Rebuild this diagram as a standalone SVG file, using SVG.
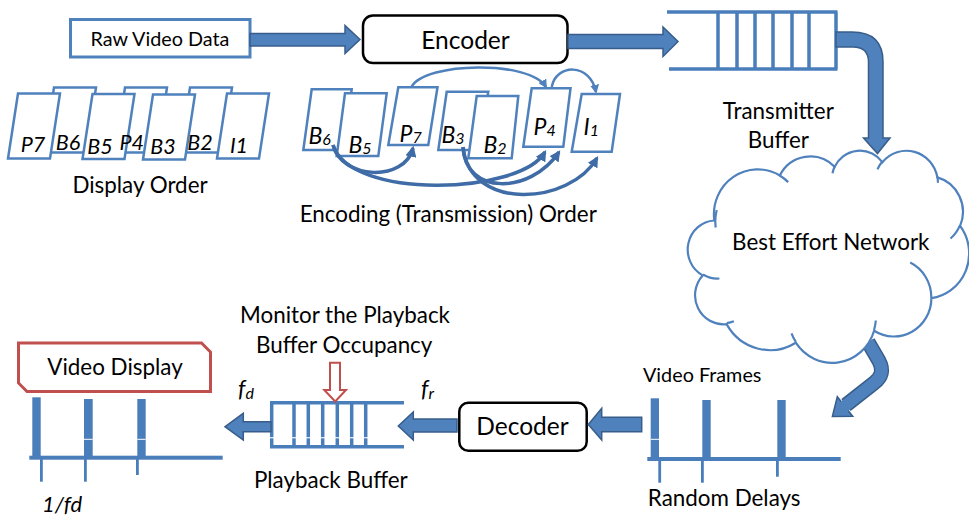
<svg xmlns="http://www.w3.org/2000/svg" width="969" height="520" viewBox="0 0 969 520">
<style>
.t{font-family:Lato,"Liberation Sans",sans-serif;fill:#000}
.m{font-size:22.4px;text-anchor:middle}
.it{font-style:italic}
.frame{fill:#fff;stroke:#4F81BD;stroke-width:2.5;stroke-linejoin:miter}
.big{fill:#4F81BD;stroke:#385D8A;stroke-width:1.5;stroke-linejoin:miter}
.bl{fill:#4A7EBB}
.bufl{stroke:#4A7EBB;stroke-width:3.5;fill:none}
.thin{fill:none;stroke:#4F81BD;stroke-width:2.5}
.thick{fill:none;stroke:#3F6CA6;stroke-width:3.5}
.cloud{fill:#fff;stroke:#4F81BD;stroke-width:2.2}
.gap{fill:#fff}
</style>
<defs>
<marker id="ahT" viewBox="0 0 10 10" refX="8" refY="5" markerWidth="9" markerHeight="9" markerUnits="userSpaceOnUse" orient="auto"><path d="M0,0 L10,5 L0,10 z" fill="#4F81BD"/></marker>
<marker id="ahB" viewBox="0 0 10 10" refX="8" refY="5" markerWidth="11" markerHeight="11" markerUnits="userSpaceOnUse" orient="auto"><path d="M0,0 L10,5 L0,10 z" fill="#3F6CA6"/></marker>
</defs>

<!-- curved arrow from cloud (under cloud) -->
<g id="conn-cloud-frames">
<path d="M868,342 L879,361 Q886,374 874,383 L846,405" fill="none" stroke="#385D8A" stroke-width="15"/>
<polygon points="832.4,416.4 837.3,396.7 852.7,416.3" class="big"/>
<path d="M868,342 L879,361 Q886,374 874,383 L843,407.4" fill="none" stroke="#4F81BD" stroke-width="12"/>
</g>

<g id="raw-video-data">
<rect x="70.5" y="19.5" width="179.5" height="37.5" fill="#fff" stroke="#4F81BD" stroke-width="3"/>
<text class="t" x="160" y="46" text-anchor="middle" font-size="19.8">Raw Video Data</text>
</g>

<g id="encoder">
<rect x="363" y="15.5" width="204.5" height="47.5" rx="10" fill="#fff" stroke="#000" stroke-width="2.5"/>
<text class="t" x="465.5" y="49" text-anchor="middle" font-size="24.5">Encoder</text>
</g>

<g id="transmitter-buffer">
<path class="bufl" d="M667,12 L837.5,12 M669,69 L837.5,69 M836,12 L836,69 M718,12 V69 M737,12 V69 M755,12 V69 M773,12 V69 M792,12 V69 M809,12 V69"/>
<text class="t m" x="778.3" y="119">Transmitter</text>
<text class="t m" x="778.3" y="148">Buffer</text>
</g>

<g id="best-effort-network">
<path class="cloud" d="M714.3,220.5 A43.77,45.10 0 0 1 779.8,175.5 A34.57,35.66 0 0 1 834.6,166.8 A28.29,29.17 0 0 1 882.4,162.2 A31.48,32.36 0 0 1 937.4,177.4 A34.57,35.69 0 0 1 960.1,225.9 A43.91,45.25 0 0 1 931.4,298.2 A37.50,38.61 0 0 1 874.1,330.7 A43.76,45.22 0 0 1 795.8,342.7 A50.04,51.74 0 0 1 726.6,324.1 A28.26,29.04 0 0 1 702.7,275.4 A28.16,29.17 0 0 1 714.3,220.5 Z"/>
<path fill="none" stroke="#4F81BD" stroke-width="2.2" d="M719.4,278.5 A28.16,29.17 0 0 1 703.0,274.5 M733.9,321.3 A28.26,29.04 0 0 1 726.7,323.1 M795.8,341.8 A43.76,45.22 0 0 1 791.5,333.3 M875.8,320.5 A43.76,45.22 0 0 1 874.1,329.9 M910.2,262.6 A37.50,38.61 0 0 1 931.3,297.7 M959.9,225.3 A34.57,35.69 0 0 1 950.5,238.5 M937.4,176.6 A31.48,32.36 0 0 1 937.9,182.8 M877.5,169.4 A31.48,32.36 0 0 1 882.3,161.5 M832.5,173.2 A28.29,29.17 0 0 1 834.8,166.3 M779.7,175.5 A43.77,45.10 0 0 1 788.2,182.1 M715.7,227.5 A43.77,45.10 0 0 1 716.7,210.1"/>
<text class="t m" x="830.8" y="250">Best Effort Network</text>
</g>

<g id="display-order">
<path class="frame" d="M54,87.5 H96 L86,152.5 H44 Z"/>
<path class="frame" d="M125,87.5 H167 L157,152.5 H115 Z"/>
<path class="frame" d="M190,87.5 H232 L222,152.5 H180 Z"/>
<path class="frame" d="M18,93.5 H60 L50,158.5 H8 Z"/>
<path class="frame" d="M92.5,94 H134.5 L124.5,159 H82.5 Z"/>
<path class="frame" d="M153,94.5 H195 L185,159.5 H143 Z"/>
<path class="frame" d="M227,93.5 H269 L259,158.5 H217 Z"/>
<g class="t it" font-size="21.5" text-anchor="middle">
<text x="33" y="151.7">P7</text>
<text x="68" y="150">B6</text>
<text x="100" y="154">B5</text>
<text x="131.7" y="150">P4</text>
<text x="163" y="154">B3</text>
<text x="200" y="149.5">B2</text>
<text x="239" y="152.7">I1</text>
</g>
<text class="t m" x="140" y="193">Display Order</text>
</g>

<g id="encoding-order">
<path class="frame" d="M311.7,89.3 H351.7 L343.3,150 H303.3 Z"/>
<path class="frame" d="M345,93.3 H386.7 L378.3,156 H336.7 Z"/>
<path class="frame" d="M398.3,87.3 H437.5 L428.3,145 H388.3 Z"/>
<path class="frame" d="M446.7,91.7 H488.3 L478.3,150 H438.3 Z"/>
<path class="frame" d="M476.7,96 H518.3 L511.7,158.3 H468.3 Z"/>
<path class="frame" d="M531.7,88.3 H570.5 L563.3,146.7 H523.3 Z"/>
<path class="frame" d="M581.7,94 H620 L611.7,151.7 H571.7 Z"/>
<g class="t it" font-size="23">
<text x="308.5" y="144">B<tspan font-size="16" dy="1">6</tspan></text>
<text x="348.5" y="153">B<tspan font-size="16" dy="1">5</tspan></text>
<text x="399.5" y="141.7">P<tspan font-size="16" dy="1">7</tspan></text>
<text x="441.5" y="143.3">B<tspan font-size="16" dy="1">3</tspan></text>
<text x="483.5" y="153.3">B<tspan font-size="16" dy="1">2</tspan></text>
<text x="533.5" y="135">P<tspan font-size="16" dy="1">4</tspan></text>
<text x="583.5" y="135">I<tspan font-size="16" dy="1">1</tspan></text>
</g>
<text class="t m" x="448.3" y="221.5">Encoding (Transmission) Order</text>
</g>

<g id="video-display">
<path d="M18.5,343 H201.5 L210.5,352 V391.5 H27 L18.5,383 Z" fill="#fff" stroke="#C0504D" stroke-width="3"/>
<text class="t m" x="115" y="375">Video Display</text>
<rect class="bl" x="29.3" y="455.7" width="193.4" height="4"/>
<rect class="bl" x="32.3" y="397.3" width="8.4" height="60"/>
<rect class="bl" x="84" y="399" width="8.7" height="58"/>
<rect class="bl" x="137.3" y="399" width="8.4" height="58"/>
<rect class="bl" x="40" y="458" width="2.8" height="23.7"/>
<rect class="bl" x="84" y="458" width="2.8" height="23.7"/>
<rect class="bl" x="136" y="458" width="2.8" height="17"/>
<rect class="gap" x="84" y="438.8" width="8.7" height="1"/>
<rect class="gap" x="137.3" y="438.8" width="8.4" height="1"/>
<text class="t it" x="62" y="511.7" font-size="22" text-anchor="middle">1/fd</text>
</g>

<g id="playback-buffer">
<path class="bufl" d="M270,402.7 H404 M270,446.7 H404 M271.7,402.7 V446.7 M294,402.7 V446.7 M308.3,402.7 V446.7 M322.7,402.7 V446.7 M337.3,402.7 V446.7 M351.7,402.7 V446.7 M365.7,402.7 V446.7"/>
<rect class="gap" x="269" y="437.2" width="99" height="1.1"/>
<text class="t m" x="330.8" y="488.3">Playback Buffer</text>
</g>

<g id="monitor">
<text class="t m" x="345" y="323.3">Monitor the Playback</text>
<text class="t m" x="344.2" y="353.3">Buffer Occupancy</text>
<path d="M330,362.7 H340 V390 H346 L335.2,401.5 L324.3,390 H330 Z" fill="#fff" stroke="#C0504D" stroke-width="2"/>
</g>

<g id="decoder">
<rect x="459.3" y="402.7" width="127.4" height="48" rx="9" fill="#fff" stroke="#000" stroke-width="2.5"/>
<text class="t" x="522.5" y="435" text-anchor="middle" font-size="24.5">Decoder</text>
</g>

<g id="video-frames">
<text class="t" x="702.2" y="381.7" text-anchor="middle" font-size="19.8">Video Frames</text>
<rect class="bl" x="647.3" y="457" width="193.4" height="4"/>
<rect class="bl" x="650.7" y="398.3" width="8.3" height="60"/>
<rect class="bl" x="702.3" y="400" width="8.4" height="58"/>
<rect class="bl" x="777.3" y="400" width="8.4" height="58"/>
<rect class="bl" x="658.3" y="459" width="2.8" height="23.7"/>
<rect class="bl" x="701" y="459" width="2.8" height="23.7"/>
<rect class="bl" x="776" y="459" width="2.8" height="17.7"/>
<rect class="gap" x="650.7" y="438.8" width="8.3" height="1"/>
<text class="t m" x="724.2" y="506">Random Delays</text>
</g>

<g id="connectors">
<path class="big" d="M250,33.5 H345 V25.5 L360,39.5 L345,53.5 V46 H250 Z"/>
<path class="big" d="M568,34.5 H663 V27 L678,41.5 L663,56.5 V48.5 H568 Z"/>
<path class="big" d="M836,32 H852 Q883,32 883,62 V138 H890 L877.5,153.5 L863.5,138 H868.5 V62 Q868.5,47 853,47 H836 Z"/>
<path class="big" d="M641.7,417.3 H601.7 V408.3 L588.3,424.5 L601.7,440 V431.7 H641.7 Z"/>
<path class="big" d="M457,419 H413.3 V412 L398.3,426 L413.3,440 V432 H457 Z"/>
<path class="big" d="M271,421.7 H243.3 V413.3 L225,426.7 L243.3,440 V431.7 H271 Z"/>
<path class="thin" d="M411.7,86.7 C425,62 530,60 546,87" marker-end="url(#ahT)"/>
<path class="thin" d="M551.7,87 C556,64 590,62 596,92" marker-end="url(#ahT)"/>
<path class="thick" d="M333,145 C342,180 405,182 413,148" marker-end="url(#ahB)"/>
<path class="thick" d="M333,145 C350,200 520,195 545,152" marker-end="url(#ahB)"/>
<path class="thick" d="M463,147 C465,195 530,195 559,152" marker-end="url(#ahB)"/>
<path class="thick" d="M463,147 C470,212 570,205 597,158" marker-end="url(#ahB)"/>
</g>

<g id="rate-labels" class="t it">
<text x="238" y="397" font-size="23">f<tspan font-size="16" dy="2">d</tspan></text>
<text x="421" y="397" font-size="23">f<tspan font-size="16" dy="2">r</tspan></text>
</g>
</svg>
